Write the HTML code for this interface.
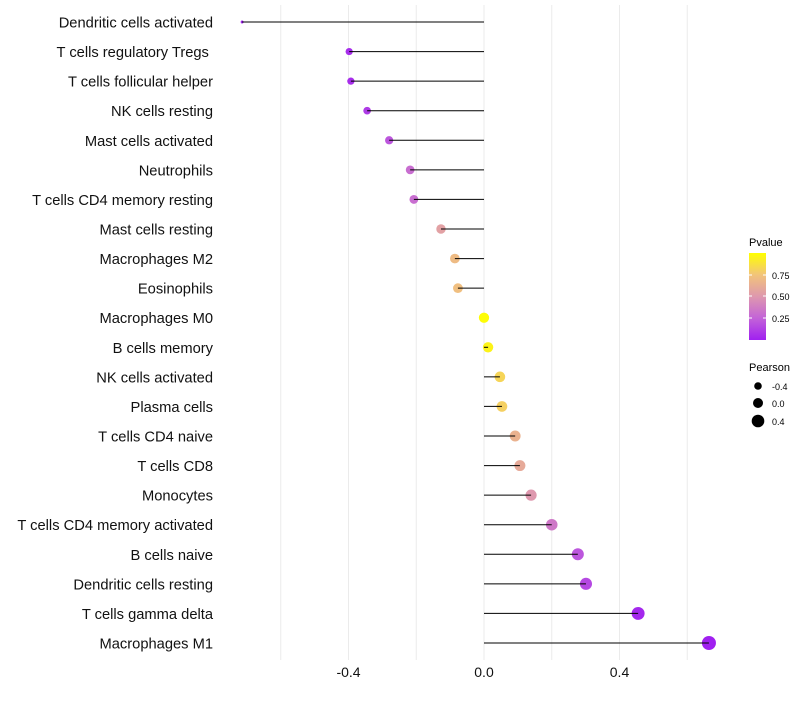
<!DOCTYPE html>
<html><head><meta charset="utf-8"><style>
body{margin:0;background:#fff;font-family:"Liberation Sans",sans-serif}
</style></head><body>
<svg id="chart" width="800" height="700" xmlns="http://www.w3.org/2000/svg">
<defs><linearGradient id="pg" x1="0" y1="1" x2="0" y2="0">
<stop offset="0" stop-color="#A020F0"/><stop offset="0.25" stop-color="#C363D8"/><stop offset="0.5" stop-color="#DE98AE"/><stop offset="0.75" stop-color="#F2C47A"/><stop offset="1" stop-color="#FFFF00"/></linearGradient></defs>
<g id="grid"></g><g id="marks"></g><g id="labels"></g>
<g font-size="10">
<text x="749" y="246" font-size="11">Pvalue</text>
<rect x="749" y="253" width="17" height="87" fill="url(#pg)"/>
<line x1="749" x2="752" y1="275" y2="275" stroke="#fff"/><line x1="763" x2="766" y1="275" y2="275" stroke="#fff"/>
<line x1="749" x2="752" y1="296" y2="296" stroke="#fff"/><line x1="763" x2="766" y1="296" y2="296" stroke="#fff"/>
<line x1="749" x2="752" y1="318" y2="318" stroke="#fff"/><line x1="763" x2="766" y1="318" y2="318" stroke="#fff"/>
<text x="772" y="279" font-size="9">0.75</text><text x="772" y="300" font-size="9">0.50</text><text x="772" y="322" font-size="9">0.25</text>
</g>
<g>
<text x="749" y="371" font-size="11">Pearson</text>
<circle cx="758" cy="386" r="3.8" fill="#000"/><text x="772" y="390" font-size="9">-0.4</text>
<circle cx="758" cy="403" r="5" fill="#000"/><text x="772" y="407" font-size="9">0.0</text>
<circle cx="758" cy="421" r="6.3" fill="#000"/><text x="772" y="425" font-size="9">0.4</text>
</g>
</svg>
<script>
const categories=["Dendritic cells activated","T cells regulatory  Tregs\u00a0","T cells follicular helper","NK cells resting","Mast cells activated","Neutrophils","T cells CD4 memory resting","Mast cells resting","Macrophages M2","Eosinophils","Macrophages M0","B cells memory","NK cells activated","Plasma cells","T cells CD4 naive","T cells CD8","Monocytes","T cells CD4 memory activated","B cells naive","Dendritic cells resting","T cells gamma delta","Macrophages M1"];
const pearson=[-0.714,-0.398,-0.393,-0.345,-0.28,-0.218,-0.207,-0.127,-0.086,-0.077,0.0,0.012,0.047,0.053,0.092,0.106,0.139,0.2,0.277,0.301,0.455,0.664];
const pvalue=[0.01,0.05,0.05,0.1,0.2,0.3,0.3,0.55,0.7,0.72,0.99,0.95,0.82,0.8,0.65,0.6,0.5,0.35,0.2,0.15,0.03,0.001];
const xTicks=[-0.4,0,0.4];
const xTickLabels=["-0.4","0.0","0.4"];
const gridVals=[-0.6,-0.4,-0.2,0,0.2,0.4,0.6];
const NS="http://www.w3.org/2000/svg";
const x=v=>484+v*338.75;
const y=i=>22+i*(621/21);
const rad=v=>Math.sqrt(Math.max(1.5,26.5+34.1*v));
const stops=[[0,[160,32,240]],[0.25,[195,99,216]],[0.5,[222,152,174]],[0.75,[242,196,122]],[1,[255,255,0]]];
function col(p){for(let k=0;k<stops.length-1;k++){const[a,ca]=stops[k],[b,cb]=stops[k+1];if(p<=b){const t=(p-a)/(b-a);return`rgb(${ca.map((c,j)=>Math.round(c+(cb[j]-c)*t)).join(",")})`;}}return"rgb(255,255,0)";}
function mk(t,attrs,parent){const e=document.createElementNS(NS,t);for(const k in attrs)e.setAttribute(k,attrs[k]);document.getElementById(parent).appendChild(e);return e;}
gridVals.forEach(v=>{const l=mk("line",{x1:x(v),x2:x(v),y1:5,y2:660,stroke:"#ebebeb","stroke-width":1},"grid");

});
xTicks.forEach((v,i)=>{const t=mk("text",{x:x(v),y:677,"text-anchor":"middle","font-size":14,fill:"#111"},"labels");t.textContent=xTickLabels[i];

});
categories.forEach((c,i)=>{
const t=mk("text",{x:213,y:y(i)+5.5,"text-anchor":"end","font-size":14.7,fill:"#111","xml:space":"preserve"},"labels");t.textContent=c;


const d=mk("circle",{cx:x(pearson[i]),cy:y(i),r:rad(pearson[i]),fill:col(pvalue[i])},"marks");


const l=mk("line",{x1:x(0),x2:x(pearson[i]),y1:y(i),y2:y(i),stroke:"#000","stroke-width":1},"marks");


});
</script>
</body></html>
